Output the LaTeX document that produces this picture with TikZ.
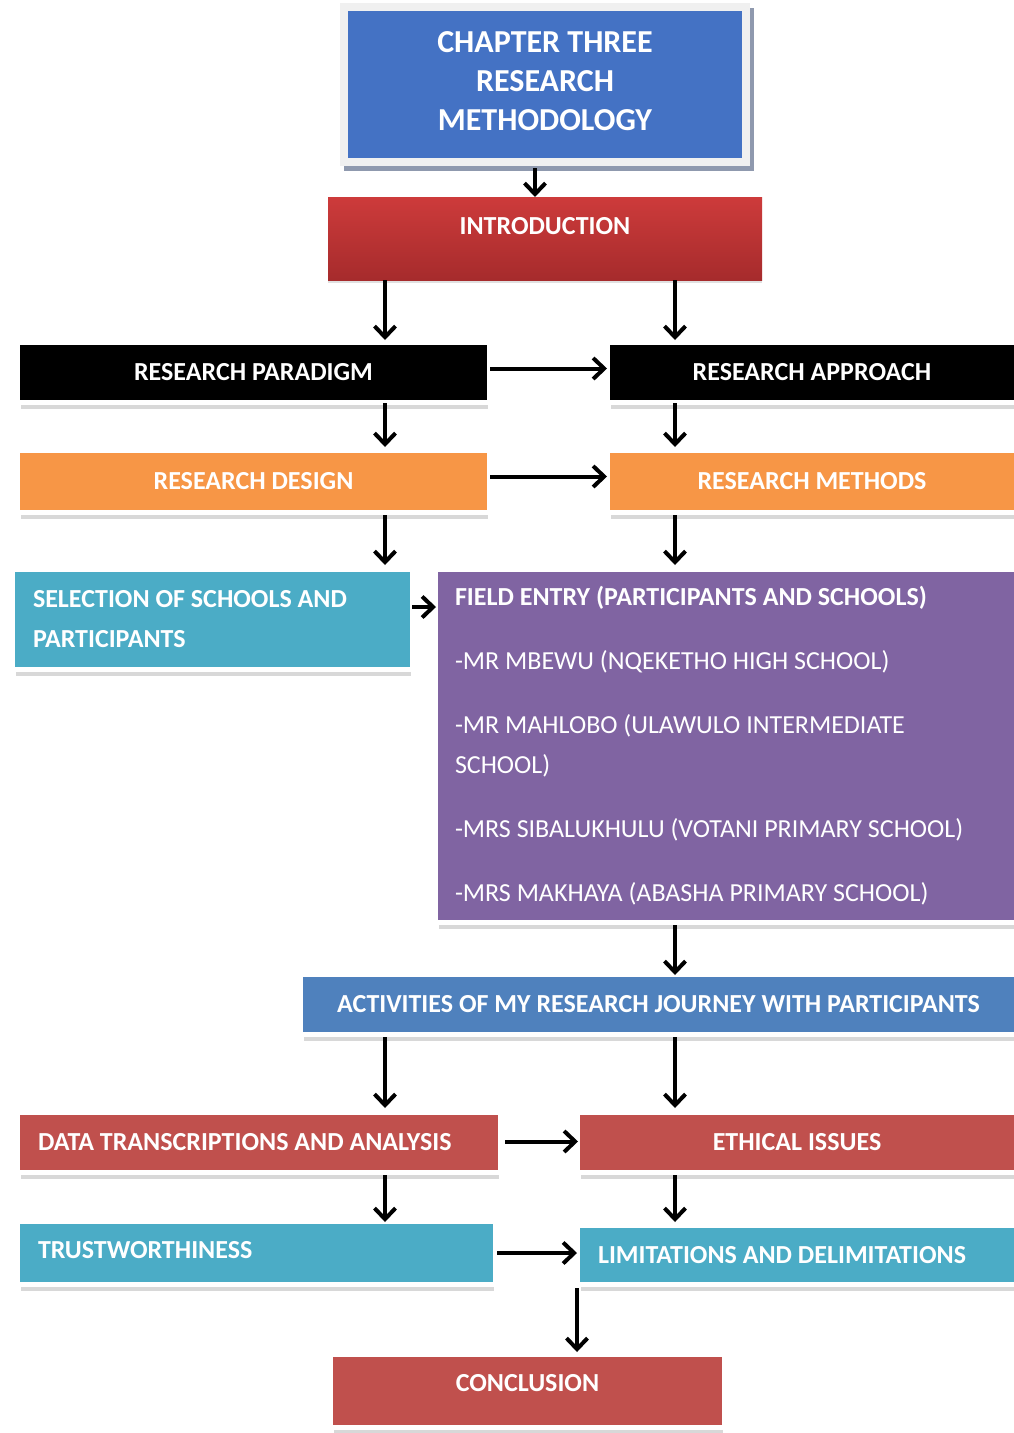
\documentclass[tikz,border=0pt]{standalone}
\usepackage{fontspec}
\setmainfont{Carlito}
\usetikzlibrary{arrows.meta,shadows,calc}

\definecolor{titleblue}{HTML}{4472C4}
\definecolor{titleframe}{HTML}{F0F0F0}
\definecolor{titleshadow}{HTML}{8F99AE}
\definecolor{introtop}{HTML}{CD3B3B}
\definecolor{introbot}{HTML}{A62B2C}
\definecolor{orangebox}{HTML}{F79646}
\definecolor{tealbox}{HTML}{4BACC6}
\definecolor{purplebox}{HTML}{8064A2}
\definecolor{bluebox}{HTML}{4F81BD}
\definecolor{redbox}{HTML}{C0504D}

\begin{document}
\begin{tikzpicture}[x=1pt,y=-1pt,
  box/.style={inner sep=0pt, outer sep=0pt, anchor=north west, text=white,
    font=\bfseries\fontsize{26}{40}\selectfont,
    drop shadow={shadow xshift=1pt, shadow yshift=-9pt, fill=black!30, opacity=0.5},
    preaction={draw=white, line width=10pt}},
  lbox/.style={box, align=flush left, inner xsep=18pt},
  arr/.style={line width=4pt, -{Straight Barb[length=11pt,width=21pt,line width=4pt]}},
]
% page
\fill[white] (0,0) rectangle (1014,1433);
\useasboundingbox (0,0) rectangle (1014,1433);

% column guides for the vertical connectors
\coordinate (tc) at (535,0);
\coordinate (lc) at (385,0);
\coordinate (rc) at (675,0);
\coordinate (cc) at (577,0);
\coordinate (sr) at (0,607);

% heading: pale frame with a blue panel inside and a hard shadow
\node[inner sep=0pt, outer sep=0pt, anchor=north west, text=white,
  fill=titleframe, minimum width=410pt, minimum height=163pt, text depth=6pt,
  drop shadow={shadow xshift=4pt, shadow yshift=-5pt, fill=titleshadow, opacity=1},
  path picture={\fill[titleblue]
    ([shift={(8pt,-8pt)}]path picture bounding box.north west) rectangle
    ([shift={(-8pt,8pt)}]path picture bounding box.south east);},
  align=center, font=\bfseries\fontsize{32}{39}\selectfont]
  (title) at (340,3) {CHAPTER THREE\\RESEARCH\\METHODOLOGY};

\node[inner sep=0pt, outer sep=0pt, anchor=north west, text=white,
  font=\bfseries\fontsize{26}{40}\selectfont,
  top color=introtop, bottom color=introbot,
  minimum width=434pt, minimum height=83pt, text depth=26pt,
  drop shadow={shadow xshift=0pt, shadow yshift=-3pt, fill=black!40, opacity=0.3}]
  (intro) at (328,197) {INTRODUCTION};

% paradigm / approach
\node[box, fill=black, minimum width=467pt, minimum height=55pt] (para) at (20,345) {RESEARCH PARADIGM};
\node[box, fill=black, minimum width=404pt, minimum height=55pt] (appr) at (610,345) {RESEARCH APPROACH};

% design / methods
\node[box, fill=orangebox, minimum width=467pt, minimum height=57pt] (design) at (20,453) {RESEARCH DESIGN};
\node[box, fill=orangebox, minimum width=404pt, minimum height=57pt] (methods) at (610,453) {RESEARCH METHODS};

% selection / field entry
\node[lbox, fill=tealbox, text width=359pt, minimum height=95pt] (select) at (15,572)
  {SELECTION OF SCHOOLS AND\\PARTICIPANTS};
\node[lbox, fill=purplebox, inner xsep=17pt, text width=542pt, minimum height=348pt] (field) at (438,572)
  {FIELD ENTRY (PARTICIPANTS AND SCHOOLS)\\[24pt]
   {\mdseries -MR MBEWU (NQEKETHO HIGH SCHOOL)}\\[24pt]
   {\mdseries -MR MAHLOBO (ULAWULO INTERMEDIATE}\\
   {\mdseries SCHOOL)}\\[24pt]
   {\mdseries -MRS SIBALUKHULU (VOTANI PRIMARY SCHOOL)}\\[24pt]
   {\mdseries -MRS MAKHAYA (ABASHA PRIMARY SCHOOL)}};

% activities
\node[box, fill=bluebox, minimum width=711pt, minimum height=55pt] (activ) at (303,977)
  {ACTIVITIES OF MY RESEARCH JOURNEY WITH PARTICIPANTS};

% data / ethics
\node[lbox, fill=redbox, text width=442pt, minimum height=55pt] (data) at (20,1115)
  {DATA TRANSCRIPTIONS AND ANALYSIS};
\node[box, fill=redbox, minimum width=434pt, minimum height=55pt] (ethic) at (580,1115) {ETHICAL ISSUES};

% trustworthiness / limitations
\node[lbox, fill=tealbox, text width=437pt, minimum height=58pt, text depth=6pt] (trust) at (20,1224)
  {TRUSTWORTHINESS};
\node[lbox, fill=tealbox, text width=398pt, minimum height=54pt] (limit) at (580,1228)
  {LIMITATIONS AND DELIMITATIONS};

% conclusion
\node[box, fill=redbox, minimum width=389pt, minimum height=68pt, text depth=16pt] (concl) at (333,1357) {CONCLUSION};

% connectors
\draw[arr, shorten <=2pt] (title.south -| tc) -- (intro.north -| tc);
\draw[arr] (intro.south -| lc) -- ([yshift=5pt]para.north -| lc);
\draw[arr] (intro.south -| rc) -- ([yshift=5pt]appr.north -| rc);
\draw[arr, shorten <=3pt, shorten >=3pt] ([yshift=4pt]para.east) -- ([yshift=4pt]para.east -| appr.west);
\draw[arr] ([yshift=-3pt]para.south -| lc) -- ([yshift=6pt]design.north -| lc);
\draw[arr] ([yshift=-3pt]appr.south -| rc) -- ([yshift=6pt]methods.north -| rc);
\draw[arr, shorten <=3pt, shorten >=3pt] ([yshift=5pt]design.east) -- ([yshift=5pt]design.east -| methods.west);
\draw[arr] ([yshift=-5pt]design.south -| lc) -- ([yshift=7pt]select.north -| lc);
\draw[arr] ([yshift=-5pt]methods.south -| rc) -- ([yshift=7pt]field.north -| rc);
\draw[arr, shorten <=2pt, shorten >=2pt] (select.east |- sr) -- (field.west |- sr);
\draw[arr] ([yshift=-5pt]field.south -| rc) -- ([yshift=2pt]activ.north -| rc);
\draw[arr] ([yshift=-5pt]activ.south -| lc) -- ([yshift=7pt]data.north -| lc);
\draw[arr] ([yshift=-5pt]activ.south -| rc) -- ([yshift=7pt]ethic.north -| rc);
\draw[arr, shorten <=7pt, shorten >=2pt] ([yshift=1pt]data.east) -- ([yshift=1pt]data.east -| ethic.west);
\draw[arr] ([yshift=-5pt]data.south -| lc) -- ([yshift=2pt]trust.north -| lc);
\draw[arr] ([yshift=-5pt]ethic.south -| rc) -- ([yshift=6pt]limit.north -| rc);
\draw[arr, shorten <=4pt, shorten >=3pt] (trust.east) -- (trust.east -| limit.west);
\draw[arr] ([yshift=-6pt]limit.south -| cc) -- ([yshift=5pt]concl.north -| cc);
\end{tikzpicture}
\end{document}
